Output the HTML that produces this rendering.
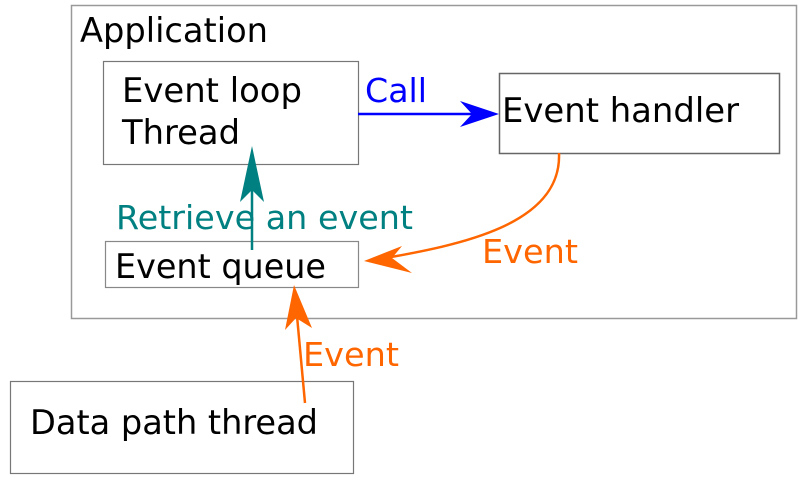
<!DOCTYPE html>
<html><head><meta charset="utf-8"><style>html,body{margin:0;padding:0;background:#fff}svg{display:block}</style></head>
<body>
<svg width="806" height="481" viewBox="0 0 806 481" xmlns="http://www.w3.org/2000/svg" font-family="DejaVu Sans, Liberation Sans, sans-serif">
<rect x="71.5" y="5.5" width="725" height="313" fill="none" stroke="#999" stroke-width="1.5"/>
<text x="80" y="42" font-size="34" textLength="188" lengthAdjust="spacingAndGlyphs">Application</text>
<rect x="103.5" y="61.5" width="255" height="103" fill="#fff" stroke="#777" stroke-width="1.2"/>
<text x="122" y="102" font-size="34" textLength="180" lengthAdjust="spacingAndGlyphs">Event loop</text>
<text x="122" y="144" font-size="34" textLength="118" lengthAdjust="spacingAndGlyphs">Thread</text>
<rect x="499.5" y="73.5" width="280" height="80" fill="#fff" stroke="#666" stroke-width="1.5"/>
<text x="502" y="122" font-size="34" textLength="237" lengthAdjust="spacingAndGlyphs">Event handler</text>
<rect x="105.5" y="241.5" width="253" height="46" fill="#fff" stroke="#888" stroke-width="1.2"/>
<text x="115" y="278" font-size="34" textLength="211" lengthAdjust="spacingAndGlyphs">Event queue</text>
<rect x="10.5" y="381.5" width="343" height="92" fill="#fff" stroke="#777" stroke-width="1.2"/>
<text x="30" y="434" font-size="34" textLength="288" lengthAdjust="spacingAndGlyphs">Data path thread</text>
<line x1="358" y1="114" x2="480" y2="114" stroke="#0000ff" stroke-width="2.5"/>
<path d="M499,114 L460,101 L472,114 L460,127 Z" fill="#0000ff"/>
<text x="365" y="102" font-size="33" fill="#0000ff" textLength="62" lengthAdjust="spacingAndGlyphs">Call</text>
<line x1="252" y1="250" x2="252" y2="165" stroke="#008080" stroke-width="2.5"/>
<path d="M252,146 L240,202 L252,190 L264,202 Z" fill="#008080"/>
<text x="116" y="229" font-size="33" fill="#008080" textLength="297" lengthAdjust="spacingAndGlyphs">Retrieve an event</text>
<path d="M559,153 C562,225 460,245 380,259" fill="none" stroke="#ff6600" stroke-width="2.5"/>
<path d="M364,261 L402,246 L392,258 L412,273 Z" fill="#ff6600"/>
<text x="482" y="263" font-size="33" fill="#ff6600" textLength="96" lengthAdjust="spacingAndGlyphs">Event</text>
<line x1="305" y1="403" x2="296" y2="305" stroke="#ff6600" stroke-width="2.5"/>
<path d="M294,285 L285,330 L296,318 L312,328 Z" fill="#ff6600"/>
<text x="303" y="366" font-size="33" fill="#ff6600" textLength="96" lengthAdjust="spacingAndGlyphs">Event</text>
</svg>
</body></html>
